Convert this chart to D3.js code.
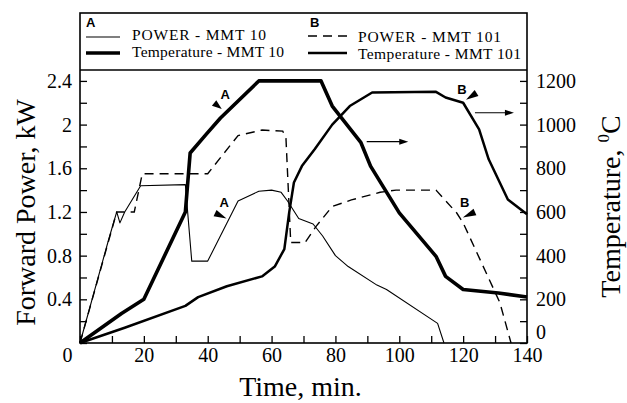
<!DOCTYPE html>
<html>
<head>
<meta charset="utf-8">
<script src="https://cdn.jsdelivr.net/npm/d3@7"></script>
<style>
  body { margin: 0; background: #fff; }
  svg text { font-family: "Liberation Serif", "Times New Roman", serif; fill: #000; }
  .tag { font-family: "Liberation Sans", Arial, sans-serif !important; font-weight: bold; }
</style>
</head>
<body>
<div id="chart"></div>
<script>
// [time in min, power in kW]
const powerMMT10 = [
  [0, 0], [9, 0.95], [11.5, 1.2], [12.5, 1.1], [14, 1.2], [19, 1.44], [33, 1.45],
  [35, 0.75], [40, 0.75], [49.5, 1.3], [56, 1.39], [60, 1.4], [63, 1.38], [65, 1.3],
  [68.5, 1.14], [73, 1.09], [76, 0.98], [80, 0.8], [84, 0.7], [93, 0.53], [96, 0.49],
  [112, 0.18], [114, 0]
];
const powerMMT101 = [
  [0, 0], [11.5, 1.2], [17, 1.2], [19.5, 1.55], [40, 1.55], [49.5, 1.9], [57, 1.95],
  [63.5, 1.94], [64.5, 1.88], [66, 0.92], [70.5, 0.92], [74, 1.07], [79, 1.25],
  [85, 1.31], [94, 1.38], [99, 1.4], [111.5, 1.4], [118, 1.19], [120, 1.1],
  [131.5, 0.37], [135, 0]
];
// [time in min, temperature in C]
const tempMMT10 = [
  [0, 0], [13, 135], [20, 200], [33, 600], [34.5, 870], [39.5, 955], [44, 1030],
  [56, 1200], [75.5, 1200], [77, 1150], [79, 1085], [88, 917], [91, 810], [100, 596],
  [111.5, 397], [114.5, 305], [120, 245], [131, 229], [140, 211]
];
const tempMMT101 = [
  [0, 0], [14, 70], [33, 170], [37, 210], [46, 260], [57, 305], [61, 350], [64, 430],
  [65.5, 596], [67, 735], [69.5, 810], [73.5, 887], [79, 1000], [84.5, 1085],
  [91.5, 1147], [111.5, 1150], [114.5, 1124], [120, 1100], [125, 978], [128, 841],
  [134, 657], [140, 590]
];

const timeTicks = d3.range(0, 141, 10);
const powerTicks = d3.range(0, 13).map(i => Math.round(i * 2) / 10);
const tempTicks = d3.range(0, 1201, 100);

const legendLabels = ["POWER - MMT 10", "Temperature - MMT 10", "POWER - MMT 101", "Temperature - MMT 101"];
const legendGroups = ["A", "B"];

// letter, axis, letter pos, arrow tip, arrow tail
const tags = [
  { text: "A", axis: "T", at: [45.5, 1140], tip: [44.4, 1071], tail: [42, 1099] },
  { text: "A", axis: "P", at: [45.2, 1.29], tip: [45.9, 1.14], tail: [42.3, 1.19] },
  { text: "B", axis: "T", at: [119.6, 1163], tip: [120.9, 1114], tail: [124.2, 1145] },
  { text: "B", axis: "P", at: [120.5, 1.29], tip: [119.9, 1.15], tail: [123.7, 1.2] }
];
// arrows pointing to the temperature axis: [from time, to time, temperature]
const tempArrows = [[89.8, 102.8, 922], [123.7, 135.9, 1054]];

const width = 627, height = 403;
const svg = d3.select('#chart').append('svg')
  .attr('width', width)
  .attr('height', height);

const x = d3.scaleLinear().domain([0, 140]).range([80, 527]);
const yP = d3.scaleLinear().domain([0, 2.5]).range([343, 70]);
const yT = d3.scaleLinear().domain([0, 1250]).range([343, 70]);

// axes
const xAxis = svg.append('g')
  .attr('transform', `translate(0,${yP(0)})`)
  .call(d3.axisBottom(x).tickValues(timeTicks).tickSize(-7).tickSizeOuter(0).tickPadding(5)
    .tickFormat(d => d % 20 === 0 ? d : ''));
xAxis.selectAll('text').attr('font-size', 20)
  .attr('dx', d => d === 0 ? -13 : 0);

const leftAxis = svg.append('g')
  .attr('transform', `translate(${x(0)},0)`)
  .call(d3.axisLeft(yP).tickValues(powerTicks).tickSize(-7).tickSizeOuter(0).tickPadding(8)
    .tickFormat(d => (d > 0 && Math.round(d * 10) % 4 === 0) ? d : ''));
leftAxis.selectAll('text').attr('font-size', 20);

const rightAxis = svg.append('g')
  .attr('transform', `translate(${x(140)},0)`)
  .call(d3.axisRight(yT).tickValues(tempTicks).tickSize(-7).tickSizeOuter(0).tickPadding(9)
    .tickFormat(d => d % 200 === 0 ? d : ''));
rightAxis.selectAll('text').attr('font-size', 20)
  .attr('y', d => d === 0 ? -11 : 0);

svg.selectAll('.domain').remove();
svg.selectAll('.tick line').attr('stroke', '#000').attr('stroke-width', 1.3);

// frame for plot and legend box
svg.append('rect')
  .attr('x', x(0)).attr('y', 13)
  .attr('width', x(140) - x(0)).attr('height', yP(0) - 13)
  .attr('fill', 'none').attr('stroke', '#000').attr('stroke-width', 1.6);
svg.append('line')
  .attr('x1', x(0)).attr('x2', x(140))
  .attr('y1', yP(2.5)).attr('y2', yP(2.5))
  .attr('stroke', '#000').attr('stroke-width', 1.6);

// curves
const lineP = d3.line().x(d => x(d[0])).y(d => yP(d[1]));
const lineT = d3.line().x(d => x(d[0])).y(d => yT(d[1]));

const styles = [
  { w: 1.1, dash: null },
  { w: 3.6, dash: null },
  { w: 1.4, dash: '9,6' },
  { w: 2.5, dash: null }
];

svg.append('path').datum(powerMMT10).attr('d', lineP)
  .attr('fill', 'none').attr('stroke', '#000').attr('stroke-width', styles[0].w).attr('stroke-linejoin', 'round');
svg.append('path').datum(tempMMT10).attr('d', lineT)
  .attr('fill', 'none').attr('stroke', '#000').attr('stroke-width', styles[1].w).attr('stroke-linejoin', 'round');
svg.append('path').datum(powerMMT101).attr('d', lineP)
  .attr('fill', 'none').attr('stroke', '#000').attr('stroke-width', styles[2].w).attr('stroke-dasharray', styles[2].dash);
svg.append('path').datum(tempMMT101).attr('d', lineT)
  .attr('fill', 'none').attr('stroke', '#000').attr('stroke-width', styles[3].w).attr('stroke-linejoin', 'round');

// tags with little arrowheads
tags.forEach(t => {
  const sy = t.axis === 'T' ? yT : yP;
  svg.append('text').attr('class', 'tag')
    .attr('x', x(t.at[0])).attr('y', sy(t.at[1]))
    .attr('text-anchor', 'middle').attr('dy', '0.36em')
    .attr('font-size', 13)
    .text(t.text);
  const tx = x(t.tip[0]), ty = sy(t.tip[1]);
  const bx = x(t.tail[0]), by = sy(t.tail[1]);
  const len = Math.hypot(tx - bx, ty - by);
  const nx = -(ty - by) / len * 3.5, ny = (tx - bx) / len * 3.5;
  svg.append('path')
    .attr('d', `M${tx},${ty}L${bx + nx},${by + ny}L${bx - nx},${by - ny}Z`)
    .attr('fill', '#000');
});

tempArrows.forEach(a => {
  const y0 = yT(a[2]);
  svg.append('line')
    .attr('x1', x(a[0])).attr('x2', x(a[1]) - 6)
    .attr('y1', y0).attr('y2', y0)
    .attr('stroke', '#000').attr('stroke-width', 1.1);
  svg.append('path')
    .attr('d', `M${x(a[1])},${y0}L${x(a[1]) - 9},${y0 - 3}L${x(a[1]) - 9},${y0 + 3}Z`)
    .attr('fill', '#000');
});

// legend
const legendCols = [
  { tagX: 86, lineX: [86, 120], textX: 132, rows: [{ y: 37, ty: 40 }, { y: 53, ty: 57 }] },
  { tagX: 310, lineX: [308, 347], textX: 358, rows: [{ y: 36, ty: 42 }, { y: 53, ty: 59 }] }
];
legendCols.forEach((c, ci) => {
  svg.append('text').attr('class', 'tag')
    .attr('x', c.tagX).attr('y', 27)
    .attr('font-size', 13)
    .text(legendGroups[ci]);
  c.rows.forEach((r, ri) => {
    const k = ci * 2 + ri;
    svg.append('line')
      .attr('x1', c.lineX[0]).attr('x2', c.lineX[1])
      .attr('y1', r.y).attr('y2', r.y)
      .attr('stroke', '#000').attr('stroke-width', styles[k].w)
      .attr('stroke-dasharray', styles[k].dash);
    svg.append('text')
      .attr('x', c.textX).attr('y', r.ty)
      .attr('font-size', 15.5)
      .attr('textLength', ri === 0 ? (ci === 0 ? 134 : 143) : (ci === 0 ? 152 : 163))
      .text(legendLabels[k]);
  });
});

// axis titles
svg.append('text')
  .attr('x', (x(0) + x(140)) / 2 - 3).attr('y', 396)
  .attr('text-anchor', 'middle').attr('font-size', 28)
  .text('Time, min.');

svg.append('text')
  .attr('transform', `translate(35,${(yP(0) + yP(2.5)) / 2 + 6}) rotate(-90)`)
  .attr('text-anchor', 'middle').attr('font-size', 28)
  .text('Forward Power, kW');

const tTitle = svg.append('text')
  .attr('transform', `translate(620,${(yP(0) + yP(2.5)) / 2}) rotate(-90)`)
  .attr('text-anchor', 'middle').attr('font-size', 28);
tTitle.append('tspan').text('Temperature, ');
tTitle.append('tspan').attr('font-size', 17).attr('dy', -11).text('0');
tTitle.append('tspan').attr('dy', 11).text('C');
</script>
</body>
</html>
